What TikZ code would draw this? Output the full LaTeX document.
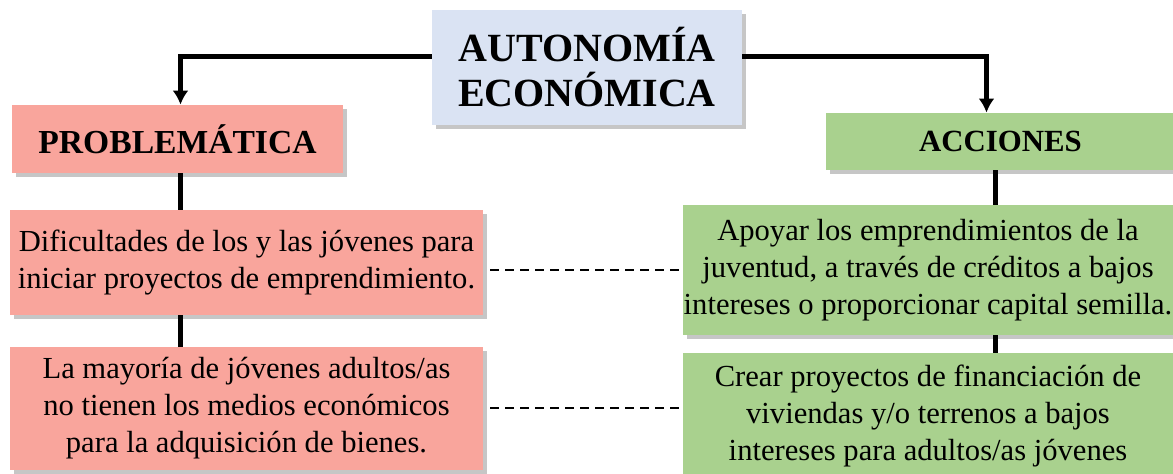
\documentclass[tikz,border=0pt]{standalone}
\usepackage{fontspec}
\setmainfont{Liberation Serif}
\usetikzlibrary{shadows,arrows.meta}

\definecolor{titleblue}{HTML}{DAE3F3}
\definecolor{probred}{HTML}{F9A59C}
\definecolor{accgreen}{HTML}{A9D18E}

\tikzset{
  box/.style={draw=none, align=center, inner sep=0pt,
    drop shadow={opacity=0.45, shadow xshift=2pt, shadow yshift=-2pt}},
  conn/.style={line width=2.5pt},
  link/.style={line width=1pt, dash pattern=on 4.5pt off 3pt}
}

\begin{document}
\begin{tikzpicture}[x=0.5pt, y=-0.5pt]
\useasboundingbox (0,0) rectangle (1173,474);

\node (T) at (587,67.5) [box, fill=titleblue, minimum width=155pt, minimum height=57.5pt,
  font=\fontsize{20}{22.5}\selectfont\bfseries] {AUTONOMÍA\\ECONÓMICA};
\node (P) at (177.5,139) [box, fill=probred, minimum width=165.5pt, minimum height=34pt,
  font=\fontsize{16.8}{18}\selectfont\bfseries] {PROBLEMÁTICA};
\node (A) at (1000.5,141.5) [box, fill=accgreen, minimum width=174.5pt, minimum height=28.5pt,
  font=\fontsize{15.4}{16}\selectfont\bfseries] {ACCIONES};

\node (L1) at (246.5,262.5) [box, fill=probred, minimum width=236.5pt, minimum height=52.5pt,
  font=\fontsize{15.3}{18.5}\selectfont] {Dificultades de los y las jóvenes para\\iniciar proyectos de emprendimiento.};
\node (L2) at (246.5,408.5) [box, fill=probred, minimum width=236.5pt, minimum height=61.5pt,
  font=\fontsize{15.3}{18.5}\selectfont] {La mayoría de jóvenes adultos/as\\no tienen los medios económicos\\para la adquisición de bienes.};
\node (R1) at (928,270) [box, fill=accgreen, minimum width=245pt, minimum height=65pt,
  font=\fontsize{15.3}{18.5}\selectfont] {Apoyar los emprendimientos de la\\juventud, a través de créditos a bajos\\intereses o proporcionar capital semilla.};
\node (R2) at (928,415.5) [box, fill=accgreen, minimum width=245pt, minimum height=62.5pt,
  font=\fontsize{15.3}{18.5}\selectfont] {Crear proyectos de financiación de\\viviendas y/o terrenos a bajos\\intereses para adultos/as jóvenes};

% title to the two branches
\draw [conn, -{Latex[length=7pt,width=8pt]}] (T.176) -| ([xshift=1.5pt]P.north);
\draw [conn, -{Latex[length=7pt,width=8pt]}] (T.4) -| ([xshift=-7pt]A.north);

% vertical links
\draw [conn] ([xshift=1.5pt]P.south) -- ([xshift=1.5pt]P.south |- L1.north);
\draw [conn] ([xshift=1.5pt]P.south |- L1.south) -- ([xshift=1.5pt]P.south |- L2.north);
\draw [conn] ([xshift=-2.5pt]A.south) -- ([xshift=-2.5pt]A.south |- R1.north);
\draw [conn] ([xshift=-2.5pt]A.south |- R1.south) -- ([xshift=-2.5pt]A.south |- R2.north);

% problem to action
\draw [link, shorten <=3.5pt, shorten >=1.5pt] (L1.east |- R1.west) -- (R1.west);
\draw [link, shorten <=3.5pt, shorten >=1.5pt] (L2.east) -- (L2.east -| R2.west);
\end{tikzpicture}
\end{document}
